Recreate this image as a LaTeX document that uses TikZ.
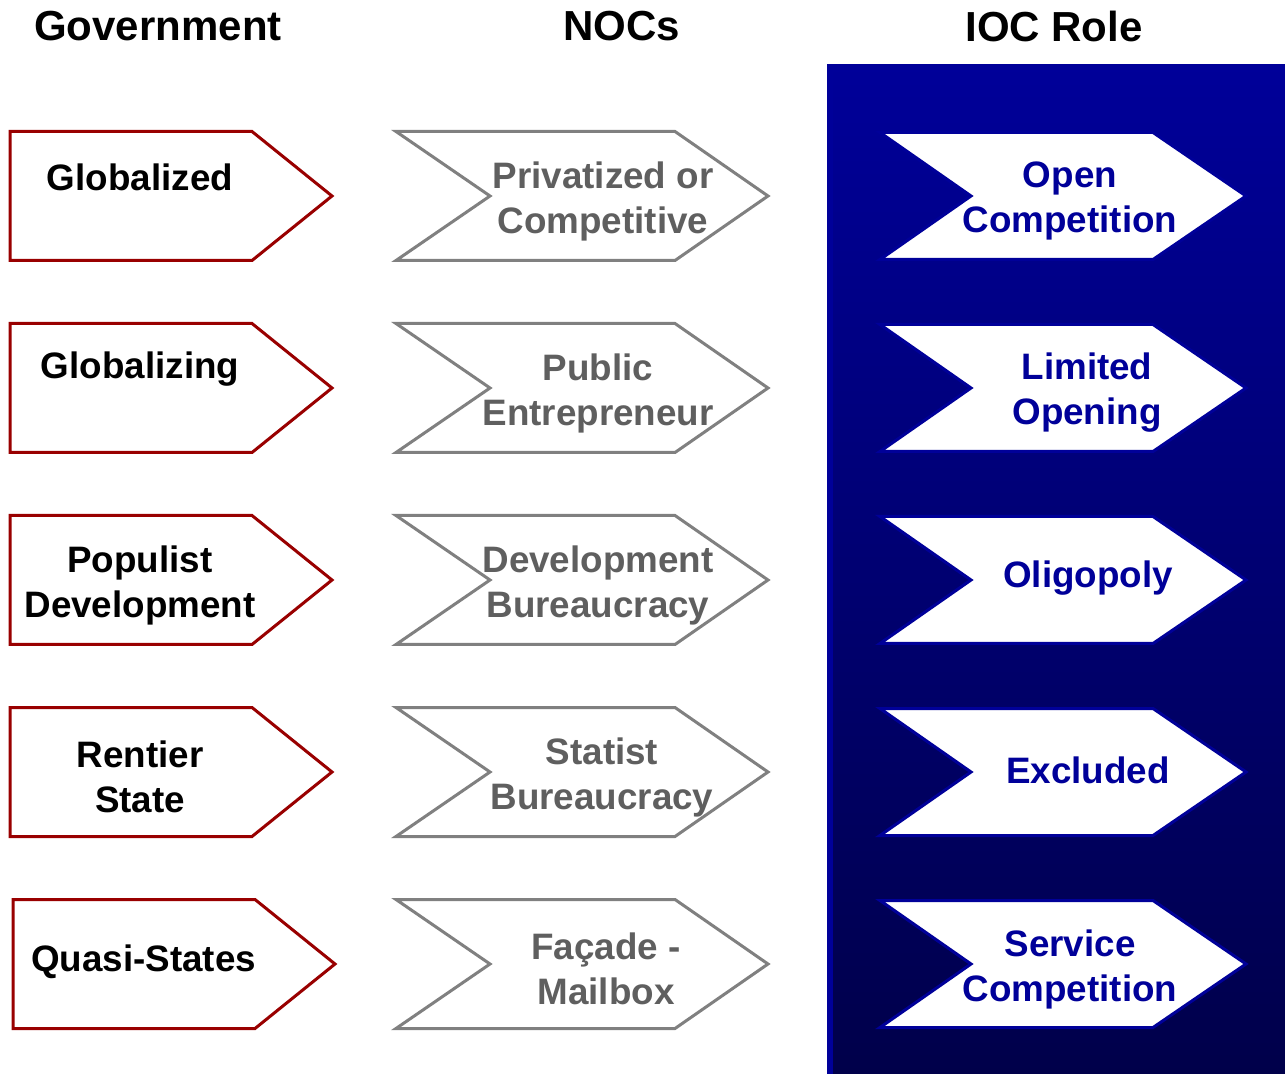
\documentclass[tikz,border=0pt]{standalone}
\usepackage{fontspec}
\setmainfont{Liberation Sans}
\definecolor{govred}{HTML}{990000}
\definecolor{nocgray}{HTML}{808080}
\definecolor{noctext}{HTML}{5F5F5F}
\definecolor{iocblue}{HTML}{000099}
\definecolor{paneltop}{HTML}{000099}
\definecolor{panelmid}{HTML}{000085}
\definecolor{panelbot}{HTML}{00004A}
\begin{document}
\begin{tikzpicture}[x=0.5pt,y=-0.5pt,
  govshape/.style={draw=govred, line width=1.5pt, fill=white},
  nocshape/.style={draw=nocgray, line width=1.5pt, fill=white},
  iocshape/.style={draw=iocblue, line width=1.5pt, fill=white},
  lbl/.style={font=\fontsize{18.4}{22.5}\selectfont\bfseries, align=center, inner sep=0pt},
  govlbl/.style={lbl, text=black},
  noclbl/.style={lbl, text=noctext},
  ioclbl/.style={lbl, text=iocblue},
  head/.style={font=\fontsize{21}{25}\selectfont\bfseries, inner sep=0pt, text=black}]
\useasboundingbox (0,0) rectangle (1285,1074);
\fill[white] (0,0) rectangle (1285,1074);
% IOC panel
\shade[top color=paneltop, middle color=panelmid, bottom color=panelbot] (827,65) rectangle (1285,1074);
\draw[iocblue, line width=3pt] (830,65) -- (830,1074);
% headers
\node[head] (hgov) at (158,26) {Government};
\node[head] (hnoc) at (622,26) {NOCs};
\node[head] (hioc) at (1054,26) {IOC Role};
% chevrons
\foreach \yc in {196,388,580,772}{
  \draw[govshape] (10,\yc-64.5) -- (252,\yc-64.5) -- (332,\yc) -- (252,\yc+64.5) -- (10,\yc+64.5) -- cycle;
}
\draw[govshape] (13,964-64.5) -- (255,964-64.5) -- (335,964) -- (255,964+64.5) -- (13,964+64.5) -- cycle;
\foreach \yc in {196,388,580,772,964}{
  \draw[nocshape] (396,\yc-64.5) -- (675,\yc-64.5) -- (768,\yc) -- (675,\yc+64.5) -- (396,\yc+64.5) -- (490,\yc) -- cycle;
  \draw[iocshape] (880,\yc-63.5) -- (1153,\yc-63.5) -- (1246,\yc) -- (1153,\yc+63.5) -- (880,\yc+63.5) -- (971,\yc) -- cycle;
}
% government labels
\node[govlbl] (g1) at (140,177) {Globalized};
\node[govlbl] (g2) at (140,369) {Globalizing};
\node[govlbl] (g3) at (140,585) {Populist\\Development};
\node[govlbl] (g4) at (140,777) {Rentier\\State};
\node[govlbl] (g5) at (143.5,962) {Quasi-States};
% NOC labels
\node[noclbl] (n1) at (603,201) {Privatized or\\Competitive};
\node[noclbl] (n2) at (598,393) {Public\\Entrepreneur};
\node[noclbl] (n3) at (598,585) {Development\\Bureaucracy};
\node[noclbl] (n4) at (602,777) {Statist\\Bureaucracy};
\node[noclbl] (n5) at (606,969) {Façade -\\Mailbox};
% IOC labels
\node[ioclbl] (i1) at (1070,201) {Open\\Competition};
\node[ioclbl] (i2) at (1087,393) {Limited\\Opening};
\node[ioclbl] (i3) at (1088,578) {Oligopoly};
\node[ioclbl] (i4) at (1088,770) {Excluded};
\node[ioclbl] (i5) at (1070,969) {Service\\Competition};
\end{tikzpicture}
\end{document}
